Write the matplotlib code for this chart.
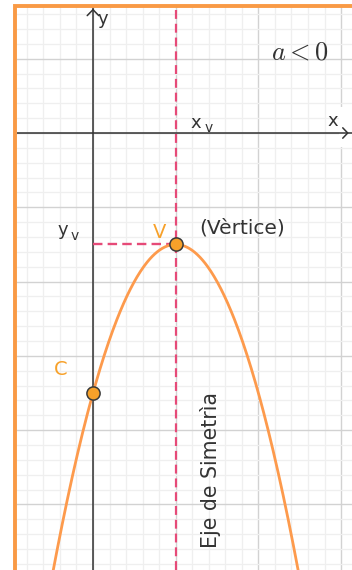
import numpy as np
import matplotlib
matplotlib.use("Agg")
import matplotlib.pyplot as plt
from matplotlib.ticker import MultipleLocator
from matplotlib.lines import Line2D
from matplotlib.patches import Rectangle

# parabola y = a (x - h)^2 + k
A_COEF = -2.0
VERTEX_X = 1.0
VERTEX_Y = -1.5
C_POINT = (0.0, -3.5)

XLIM = (-0.919, 3.132)
YLIM = (-5.882, 1.696)

CURVE_COLOR = "#fd9a4c"
POINT_COLOR = "#f7a12a"
DASH_COLOR = "#e64a78"
BORDER_COLOR = "#f99a45"
AXIS_COLOR = "#333333"
TEXT_COLOR = "#333333"

plt.rcParams["mathtext.fontset"] = "cm"

W, H = 352, 570
fig = plt.figure(figsize=(W / 100, H / 100), dpi=100)
fig.patch.set_facecolor("white")
ax = fig.add_axes([17 / W, 0, (W - 17) / W, (H - 7) / H])
ax.set_xlim(*XLIM)
ax.set_ylim(*YLIM)
for s in ax.spines.values():
    s.set_visible(False)

# grid
ax.xaxis.set_major_locator(MultipleLocator(1))
ax.xaxis.set_minor_locator(MultipleLocator(0.2))
ax.yaxis.set_major_locator(MultipleLocator(1))
ax.yaxis.set_minor_locator(MultipleLocator(0.2))
ax.grid(True, which="minor", color="#efefef", linewidth=0.9)
ax.grid(True, which="major", color="#d2d2d2", linewidth=1.0)
ax.tick_params(which="both", length=0, labelbottom=False, labelleft=False)
ax.set_axisbelow(True)

# axes
ax.axhline(0, color=AXIS_COLOR, lw=1.1, zorder=2)
ax.axvline(0, color=AXIS_COLOR, lw=1.1, zorder=2)
ax.add_patch(Rectangle((2.975, -0.19), 0.2, 0.54, facecolor="white",
                       edgecolor="none", zorder=1.5))
ax.plot([3.02, 3.08, 3.02], [0.07, 0.0, -0.07], color=AXIS_COLOR, lw=1.1,
        zorder=3, solid_capstyle="round")
ax.plot([-0.07, 0.0, 0.07], [1.58, 1.66, 1.58], color=AXIS_COLOR, lw=1.1,
        zorder=3, solid_capstyle="round")
ax.text(2.90, 0.04, "x", fontsize=13, color=TEXT_COLOR, ha="center",
        va="bottom", zorder=4)
ax.text(0.06, 1.42, "y", fontsize=13, color=TEXT_COLOR, ha="left",
        va="bottom", zorder=4)

# symmetry axis and vertex dash
ax.axvline(VERTEX_X, color=DASH_COLOR, lw=1.6, dashes=(4, 2.2), zorder=3)
ax.plot([0, VERTEX_X], [VERTEX_Y, VERTEX_Y], color=DASH_COLOR, lw=1.7,
        dashes=(4, 2.2), zorder=3)

# parabola
xs = np.linspace(XLIM[0], XLIM[1], 400)
ys = A_COEF * (xs - VERTEX_X) ** 2 + VERTEX_Y
ax.plot(xs, ys, color=CURVE_COLOR, lw=2.0, zorder=4)

# points
ax.plot([VERTEX_X, C_POINT[0]], [VERTEX_Y, C_POINT[1]], "o", ms=9.5,
        mfc=POINT_COLOR, mec="#3a3a3a", mew=1.1, zorder=5)

# labels
ax.text(1.18, 0.02, "x", fontsize=13, color=TEXT_COLOR, ha="left",
        va="bottom")
ax.text(1.35, -0.03, "v", fontsize=10, color=TEXT_COLOR, ha="left",
        va="bottom")
ax.text(-0.43, -1.43, "y", fontsize=13, color=TEXT_COLOR, ha="left",
        va="bottom")
ax.text(-0.27, -1.48, "v", fontsize=10, color=TEXT_COLOR, ha="left",
        va="bottom")
ax.text(0.80, -1.34, "V", fontsize=14, color=POINT_COLOR, ha="center",
        va="center")
ax.text(1.28, -1.28, "(Vèrtice)", fontsize=14.5, color=TEXT_COLOR,
        ha="left", va="center")
ax.text(-0.39, -3.18, "C", fontsize=14, color=POINT_COLOR, ha="center",
        va="center")
ax.text(2.50, 1.08, r"$a<0$", fontsize=19, color=TEXT_COLOR, ha="center",
        va="center")
ax.text(1.415, -4.54, "Eje de Simetrìa", fontsize=14.8, color=TEXT_COLOR,
        rotation=90, ha="center", va="center")

# orange frame on left and top
fig.add_artist(Line2D([15 / W, 15 / W, 1], [0, 1 - 5.5 / H, 1 - 5.5 / H],
                      transform=fig.transFigure, color=BORDER_COLOR,
                      lw=2.8, solid_joinstyle="miter"))

fig.savefig("out.png", dpi=100)
